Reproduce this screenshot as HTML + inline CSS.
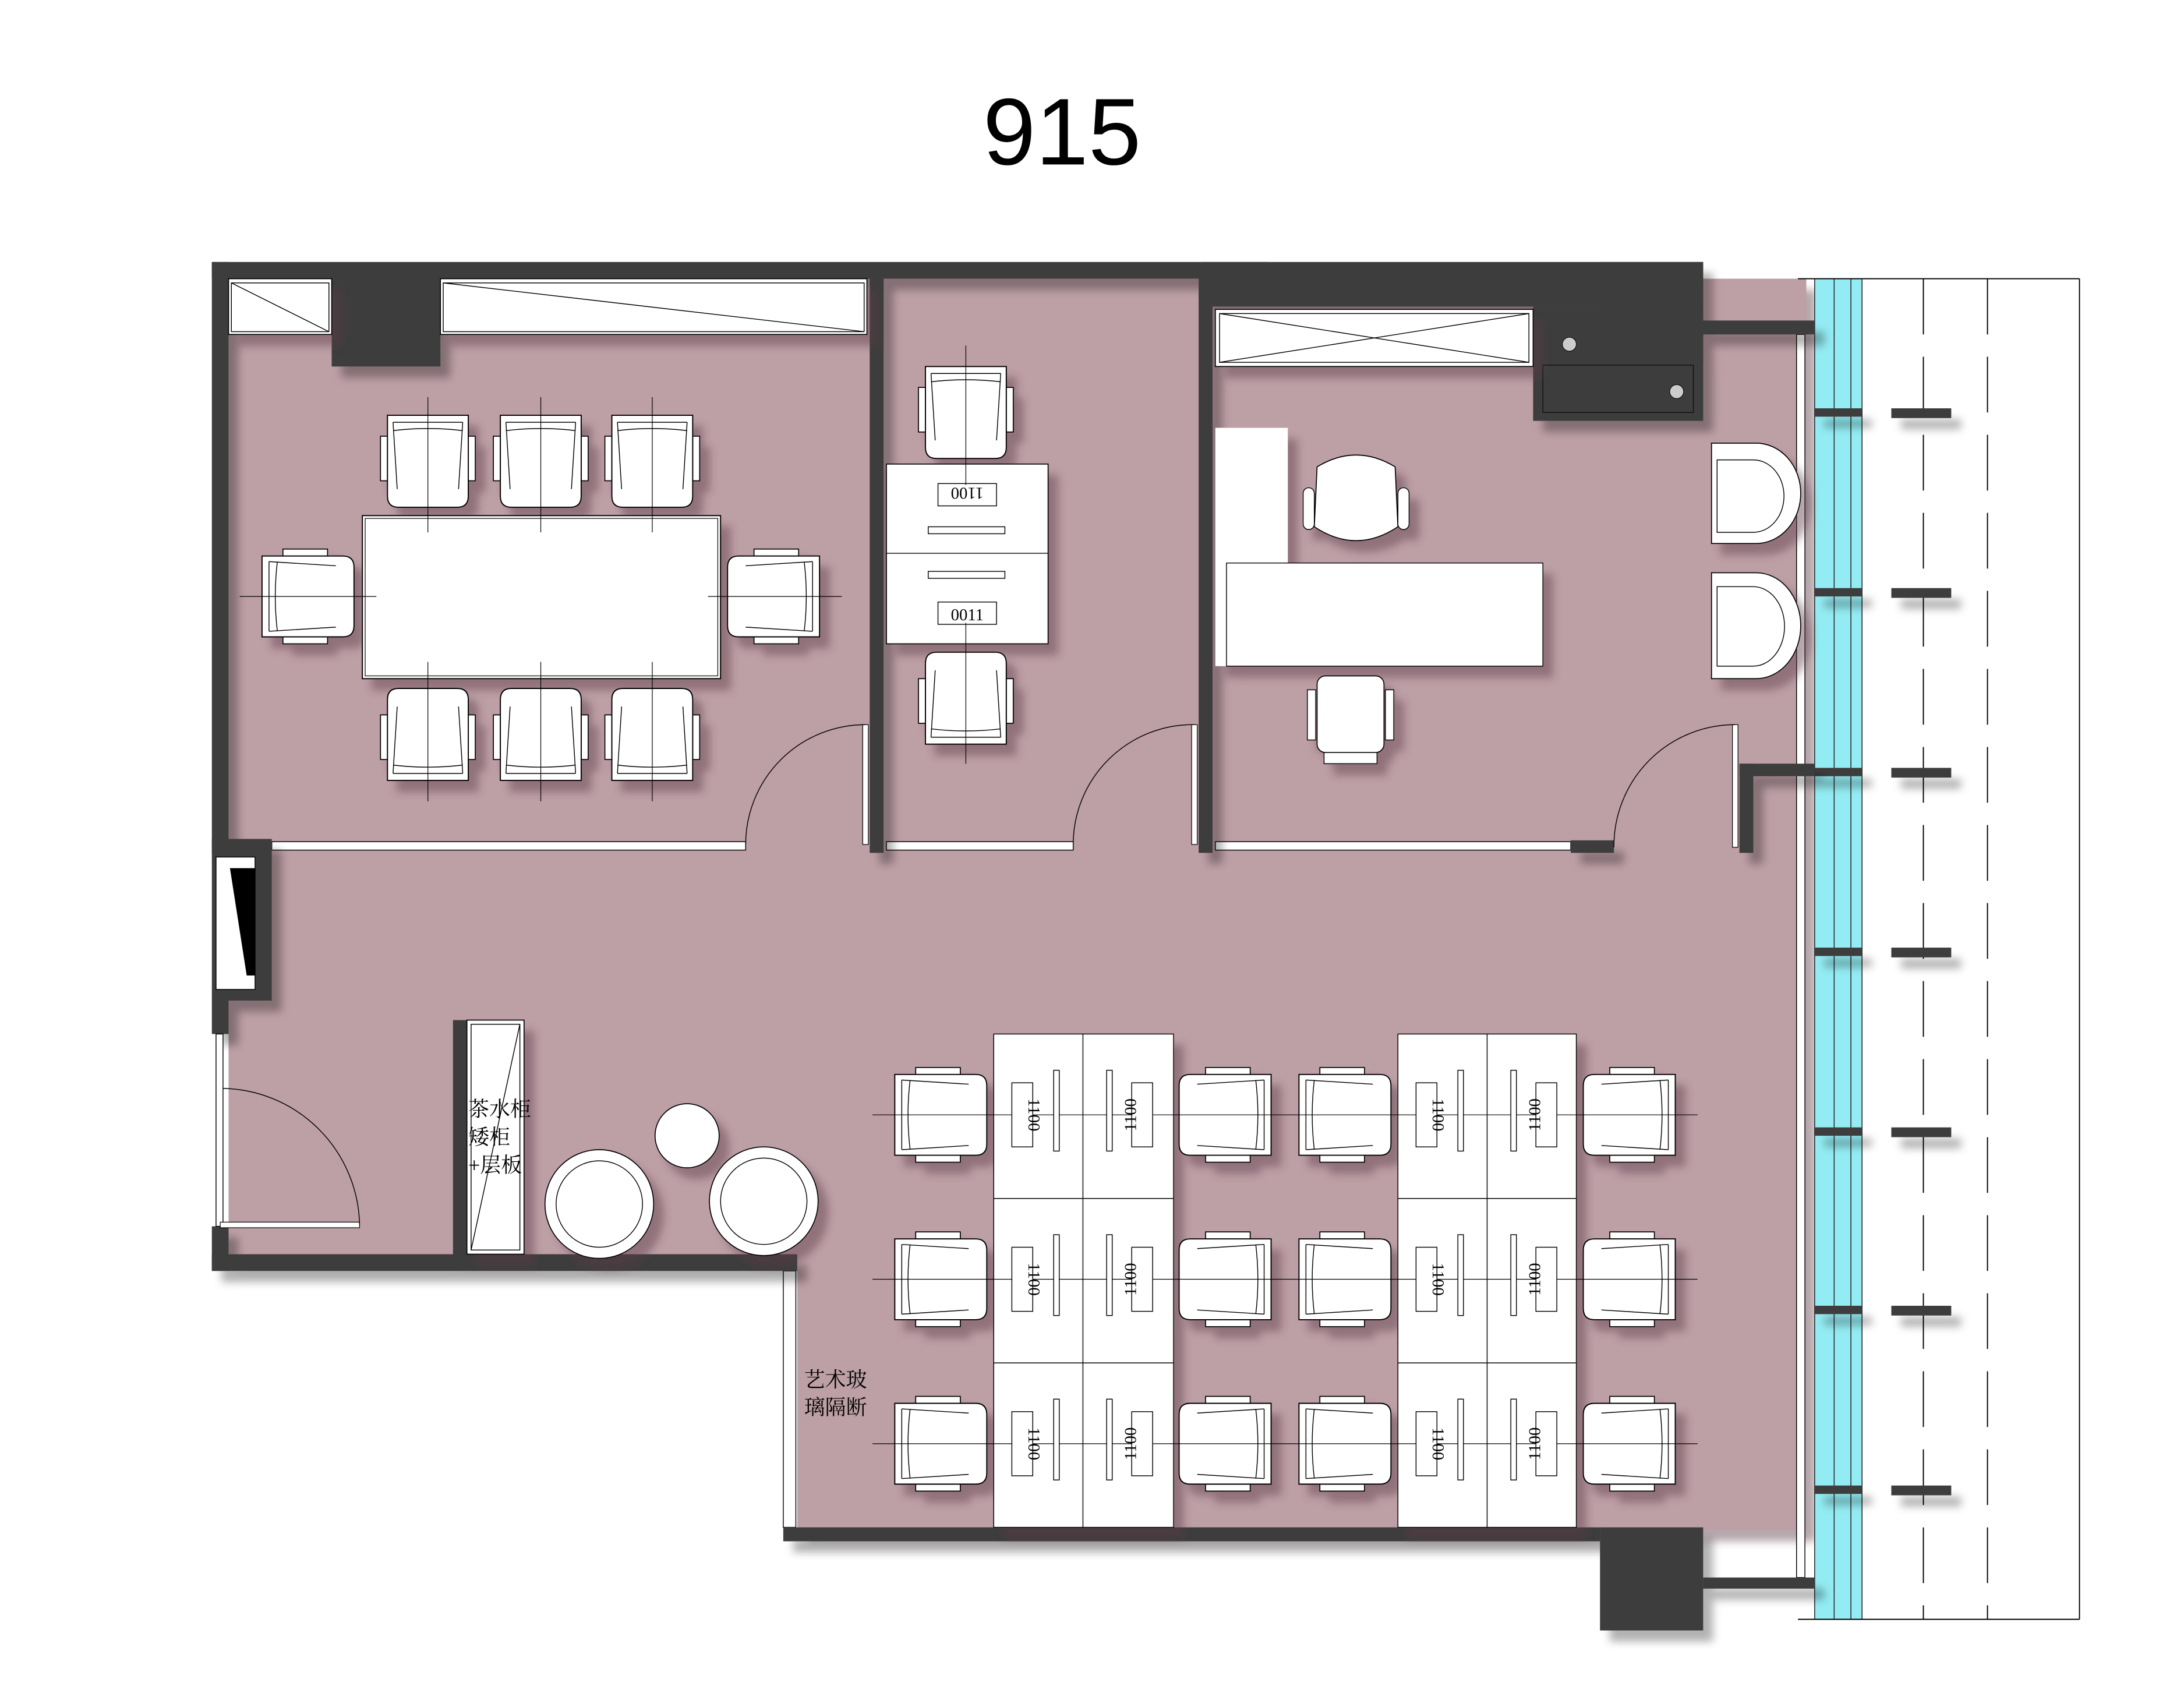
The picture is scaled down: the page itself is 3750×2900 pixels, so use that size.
<!DOCTYPE html>
<html><head><meta charset="utf-8">
<style>
html,body{margin:0;padding:0;background:#fff;}
svg{display:block;}
text{font-family:"Liberation Serif","Noto Serif CJK SC",serif;}
</style></head>
<body>
<svg width="3750" height="2900" viewBox="0 0 1567 1212" preserveAspectRatio="none" xmlns="http://www.w3.org/2000/svg">
<defs>
<filter id="sh" x="-20%" y="-20%" width="160%" height="160%">
<feDropShadow dx="7" dy="8" stdDeviation="3" flood-color="#5a3a44" flood-opacity="0.45"/>
</filter>
<filter id="shw" x="-20%" y="-20%" width="160%" height="160%">
<feDropShadow dx="7" dy="8" stdDeviation="3" flood-color="#000" flood-opacity="0.3"/>
</filter>
<symbol id="ch" viewBox="-34 -34 68 68" width="68" height="68" overflow="visible">
<rect x="-34" y="-18" width="5" height="32" fill="#fff" stroke="#000" stroke-width="0.7"/>
<rect x="29" y="-18" width="5" height="32" fill="#fff" stroke="#000" stroke-width="0.7"/>
<path d="M-29,-33 H29 V25 Q29,33 21,33 H-21 Q-29,33 -29,25 Z" fill="#fff" stroke="#000" stroke-width="0.8"/>
<path d="M-25,-28 H25 M-25,-28 L-22,20 M25,-28 L22,20 M-25,-22 Q0,-25 25,-22" fill="none" stroke="#000" stroke-width="0.6"/>
</symbol>
</defs>

<text x="762" y="118" font-family="Liberation Sans, sans-serif" font-size="68" text-anchor="middle" style="font-family:'Liberation Sans',sans-serif">915</text>

<g filter="url(#sh)">
<path d="M164,200 H1296 V1098 H572 V902 H164 Z" fill="#bd9fa6"/>
</g>

<rect x="1302" y="200" width="34" height="962" fill="#93ecf3"/>
<line x1="1316" y1="200" x2="1316" y2="1162" stroke="#333" stroke-width="0.7"/>
<line x1="1328" y1="200" x2="1328" y2="1162" stroke="#333" stroke-width="0.7"/>
<line x1="1302" y1="200" x2="1302" y2="1162" stroke="#333" stroke-width="0.7"/>
<line x1="1336" y1="200" x2="1336" y2="1162" stroke="#333" stroke-width="0.7"/>
<rect x="1289" y="240" width="6" height="892" fill="#fff" stroke="#000" stroke-width="0.6"/>
<line x1="1290" y1="200" x2="1492" y2="200" stroke="#000" stroke-width="0.8"/>
<line x1="1290" y1="1162" x2="1492" y2="1162" stroke="#000" stroke-width="0.8"/>
<line x1="1380" y1="200" x2="1380" y2="1162" stroke="#000" stroke-width="0.8" stroke-dasharray="40,16"/>
<line x1="1426" y1="200" x2="1426" y2="1162" stroke="#000" stroke-width="0.8" stroke-dasharray="40,16"/>
<line x1="1492" y1="200" x2="1492" y2="1162" stroke="#000" stroke-width="0.8"/>
<g filter="url(#shw)" fill="#3c3c3c">
<rect x="1302" y="293" width="34" height="6"/><rect x="1357" y="293" width="43" height="7"/>
<rect x="1302" y="422" width="34" height="6"/><rect x="1357" y="422" width="43" height="7"/>
<rect x="1302" y="551" width="34" height="6"/><rect x="1357" y="551" width="43" height="7"/>
<rect x="1302" y="680" width="34" height="6"/><rect x="1357" y="680" width="43" height="7"/>
<rect x="1302" y="809" width="34" height="6"/><rect x="1357" y="809" width="43" height="7"/>
<rect x="1302" y="937" width="34" height="6"/><rect x="1357" y="937" width="43" height="7"/>
<rect x="1302" y="1066" width="34" height="6"/><rect x="1357" y="1066" width="43" height="7"/>
</g>

<rect x="195" y="604" width="340" height="6" fill="#fff" stroke="#000" stroke-width="0.6"/>
<rect x="636" y="604" width="134" height="6" fill="#fff" stroke="#000" stroke-width="0.6"/>
<rect x="872" y="604" width="255" height="6" fill="#fff" stroke="#000" stroke-width="0.6"/>
<rect x="562" y="912" width="9" height="184" fill="#fff" stroke="#000" stroke-width="0.6"/>

<g filter="url(#shw)" fill="#3c3c3c">
<rect x="152" y="188" width="758" height="12"/>
<rect x="862" y="188" width="360" height="32"/>
<rect x="1148" y="188" width="74" height="75"/>
<rect x="1100" y="220" width="122" height="82"/>
<rect x="1222" y="230" width="80" height="10"/>
<rect x="152" y="188" width="12" height="425"/>
<rect x="152" y="602" width="43" height="116"/>
<rect x="152" y="718" width="12" height="24"/>
<rect x="152" y="880" width="12" height="32"/>
<rect x="152" y="900" width="420" height="12"/>
<rect x="238" y="200" width="78" height="63"/>
<rect x="624" y="200" width="10" height="412"/>
<rect x="860" y="200" width="10" height="412"/>
<rect x="1248" y="548" width="54" height="9"/>
<rect x="1248" y="548" width="10" height="64"/>
<rect x="1127" y="603" width="31" height="9"/>
<rect x="325" y="732" width="10" height="168"/>
<rect x="562" y="1096" width="586" height="10"/>
<rect x="1148" y="1096" width="74" height="74"/>
<rect x="1222" y="1132" width="80" height="8"/>
</g>
<rect x="1107" y="262" width="108" height="34" fill="none" stroke="#111" stroke-width="0.6"/>
<circle cx="1126" cy="247" r="5" fill="#ccc" stroke="#111" stroke-width="0.5"/>
<circle cx="1203" cy="281" r="5" fill="#ccc" stroke="#111" stroke-width="0.5"/>
<rect x="155" y="615" width="28" height="95" fill="#fff" stroke="#000" stroke-width="0.6"/>
<polygon points="165,623 183,623 183,700 177,700" fill="#000"/>
<rect x="155" y="742" width="5" height="138" fill="#fff" stroke="#000" stroke-width="0.6"/>

<g filter="url(#sh)">
<rect x="164" y="200" width="74" height="40" fill="#fff" stroke="#000" stroke-width="0.7"/>
<rect x="316" y="200" width="306" height="40" fill="#fff" stroke="#000" stroke-width="0.7"/>
<rect x="872" y="222" width="228" height="41" fill="#fff" stroke="#000" stroke-width="0.7"/>
<rect x="335" y="732" width="41" height="168" fill="#fff" stroke="#000" stroke-width="0.7"/>
</g>
<rect x="166" y="203" width="70" height="35" fill="none" stroke="#000" stroke-width="0.6"/>
<line x1="166" y1="203" x2="236" y2="238" stroke="#000" stroke-width="0.6"/>
<rect x="318" y="203" width="302" height="35" fill="none" stroke="#000" stroke-width="0.6"/>
<line x1="318" y1="203" x2="620" y2="238" stroke="#000" stroke-width="0.6"/>
<rect x="875" y="225" width="222" height="35" fill="none" stroke="#000" stroke-width="0.6"/>
<line x1="875" y1="225" x2="1097" y2="260" stroke="#000" stroke-width="0.6"/>
<line x1="875" y1="260" x2="1097" y2="225" stroke="#000" stroke-width="0.6"/>
<rect x="338" y="735" width="35" height="162" fill="none" stroke="#000" stroke-width="0.6"/>
<line x1="373" y1="735" x2="338" y2="897" stroke="#000" stroke-width="0.6"/>
<text x="336" y="801" font-size="15">茶水柜</text>
<text x="336" y="821" font-size="15">矮柜</text>
<text x="336" y="841" font-size="15">+层板</text>
<text x="577" y="995" font-size="15">艺术玻</text>
<text x="577" y="1015" font-size="15">璃隔断</text>

<g filter="url(#sh)">
<rect x="260" y="370" width="257" height="117" fill="#fff" stroke="#000" stroke-width="0.8"/>
<use href="#ch" x="273" y="297" width="68" height="68"/>
<use href="#ch" x="354" y="297" width="68" height="68"/>
<use href="#ch" x="434" y="297" width="68" height="68"/>
<g transform="translate(307,527) rotate(180)"><use href="#ch" x="-34" y="-34" width="68" height="68"/></g>
<g transform="translate(388,527) rotate(180)"><use href="#ch" x="-34" y="-34" width="68" height="68"/></g>
<g transform="translate(468,527) rotate(180)"><use href="#ch" x="-34" y="-34" width="68" height="68"/></g>
<g transform="translate(221,428) rotate(-90)"><use href="#ch" x="-34" y="-34" width="68" height="68"/></g>
<g transform="translate(555,428) rotate(90)"><use href="#ch" x="-34" y="-34" width="68" height="68"/></g>
</g>
<rect x="262" y="372" width="253" height="113" fill="none" stroke="#000" stroke-width="0.5"/>
<g stroke="#000" stroke-width="0.5">
<line x1="307" y1="285" x2="307" y2="382"/><line x1="388" y1="285" x2="388" y2="382"/><line x1="468" y1="285" x2="468" y2="382"/>
<line x1="307" y1="475" x2="307" y2="575"/><line x1="388" y1="475" x2="388" y2="575"/><line x1="468" y1="475" x2="468" y2="575"/>
<line x1="172" y1="428" x2="270" y2="428"/><line x1="508" y1="428" x2="604" y2="428"/>
</g>
<rect x="619" y="520" width="4" height="86" fill="#fff" stroke="#000" stroke-width="0.5"/>
<path d="M535,606 A86,86 0 0 1 621,520" fill="none" stroke="#000" stroke-width="0.6"/>
<rect x="855" y="520" width="4" height="86" fill="#fff" stroke="#000" stroke-width="0.5"/>
<path d="M770,606 A86,86 0 0 1 857,520" fill="none" stroke="#000" stroke-width="0.6"/>
<rect x="1243" y="520" width="4" height="88" fill="#fff" stroke="#000" stroke-width="0.5"/>
<path d="M1158,608 A87,87 0 0 1 1245,520" fill="none" stroke="#000" stroke-width="0.6"/>
<rect x="158" y="877" width="100" height="4" fill="#fff" stroke="#000" stroke-width="0.5"/>
<path d="M258,879 A100,100 0 0 0 160,781" fill="none" stroke="#000" stroke-width="0.6"/>

<g filter="url(#sh)">
<rect x="636" y="333" width="116" height="129" fill="#fff" stroke="#000" stroke-width="0.7"/>
<use href="#ch" x="659" y="262" width="68" height="68"/>
<g transform="translate(693,501) rotate(180)"><use href="#ch" x="-34" y="-34" width="68" height="68"/></g>
</g>
<line x1="636" y1="397" x2="752" y2="397" stroke="#000" stroke-width="0.6"/>
<rect x="666" y="378" width="55" height="5" fill="#fff" stroke="#000" stroke-width="0.6"/>
<rect x="666" y="410" width="55" height="5" fill="#fff" stroke="#000" stroke-width="0.6"/>
<rect x="673" y="347" width="42" height="16" fill="#fff" stroke="#000" stroke-width="0.6"/>
<text x="694" y="360" font-size="12" text-anchor="middle" transform="rotate(180 694 355)">1100</text>
<rect x="673" y="432" width="42" height="16" fill="#fff" stroke="#000" stroke-width="0.6"/>
<text x="694" y="445" font-size="12" text-anchor="middle">0011</text>
<line x1="693" y1="248" x2="693" y2="348" stroke="#000" stroke-width="0.5"/>
<line x1="693" y1="447" x2="693" y2="548" stroke="#000" stroke-width="0.5"/>

<g filter="url(#sh)">
<rect x="872" y="307" width="52" height="171" fill="#fff"/>
<rect x="880" y="404" width="227" height="74" fill="#fff" stroke="#000" stroke-width="0.6"/>
<path d="M1228,318 H1260 A32,36 0 0 1 1260,390 H1228 Z" fill="#fff" stroke="#000" stroke-width="0.7"/>
<path d="M1228,411 H1260 A32,38 0 0 1 1260,487 H1228 Z" fill="#fff" stroke="#000" stroke-width="0.7"/>
<path d="M945,335 Q973,318 1001,335 L1003,378 Q973,398 943,378 Z" fill="#fff" stroke="#000" stroke-width="0.7"/>
<rect x="935" y="350" width="8" height="30" rx="4" fill="#fff" stroke="#000" stroke-width="0.6"/>
<rect x="1003" y="350" width="8" height="30" rx="4" fill="#fff" stroke="#000" stroke-width="0.6"/>
<rect x="945" y="485" width="48" height="55" rx="6" fill="#fff" stroke="#000" stroke-width="0.7"/>
<rect x="938" y="495" width="6" height="36" fill="#fff" stroke="#000" stroke-width="0.6"/>
<rect x="994" y="495" width="6" height="36" fill="#fff" stroke="#000" stroke-width="0.6"/>
<rect x="950" y="540" width="38" height="8" fill="#fff" stroke="#000" stroke-width="0.6"/>
</g>
<path d="M1232,330 H1258 A22,26 0 0 1 1258,382 H1232 Z" fill="none" stroke="#000" stroke-width="0.6"/>
<path d="M1232,421 H1258 A22,28 0 0 1 1258,478 H1232 Z" fill="none" stroke="#000" stroke-width="0.6"/>

<g filter="url(#sh)">
<circle cx="493" cy="815" r="23" fill="#fff" stroke="#000" stroke-width="0.7"/>
<circle cx="430" cy="864" r="39" fill="#fff" stroke="#000" stroke-width="0.7"/>
<circle cx="548" cy="862" r="39" fill="#fff" stroke="#000" stroke-width="0.7"/>
</g>
<circle cx="430" cy="864" r="31" fill="none" stroke="#000" stroke-width="0.6"/>
<circle cx="548" cy="862" r="31" fill="none" stroke="#000" stroke-width="0.6"/>

<g filter="url(#sh)">
<rect x="713" y="742" width="129" height="354" fill="#fff" stroke="#000" stroke-width="0.6"/>
<rect x="1003" y="742" width="128" height="354" fill="#fff" stroke="#000" stroke-width="0.6"/>
<g transform="translate(675,800) rotate(-90)"><use href="#ch" x="-34" y="-34" width="68" height="68"/></g>
<g transform="translate(675,918) rotate(-90)"><use href="#ch" x="-34" y="-34" width="68" height="68"/></g>
<g transform="translate(675,1036) rotate(-90)"><use href="#ch" x="-34" y="-34" width="68" height="68"/></g>
<g transform="translate(879,800) rotate(90)"><use href="#ch" x="-34" y="-34" width="68" height="68"/></g>
<g transform="translate(879,918) rotate(90)"><use href="#ch" x="-34" y="-34" width="68" height="68"/></g>
<g transform="translate(879,1036) rotate(90)"><use href="#ch" x="-34" y="-34" width="68" height="68"/></g>
<g transform="translate(965,800) rotate(-90)"><use href="#ch" x="-34" y="-34" width="68" height="68"/></g>
<g transform="translate(965,918) rotate(-90)"><use href="#ch" x="-34" y="-34" width="68" height="68"/></g>
<g transform="translate(965,1036) rotate(-90)"><use href="#ch" x="-34" y="-34" width="68" height="68"/></g>
<g transform="translate(1169,800) rotate(90)"><use href="#ch" x="-34" y="-34" width="68" height="68"/></g>
<g transform="translate(1169,918) rotate(90)"><use href="#ch" x="-34" y="-34" width="68" height="68"/></g>
<g transform="translate(1169,1036) rotate(90)"><use href="#ch" x="-34" y="-34" width="68" height="68"/></g>
</g>
<g stroke="#000" stroke-width="0.6" fill="none">
<line x1="777" y1="742" x2="777" y2="1096"/><line x1="713" y1="860" x2="842" y2="860"/><line x1="713" y1="978" x2="842" y2="978"/>
<line x1="1067" y1="742" x2="1067" y2="1096"/><line x1="1003" y1="860" x2="1131" y2="860"/><line x1="1003" y1="978" x2="1131" y2="978"/>
<line x1="626" y1="800" x2="1218" y2="800" stroke-width="0.5"/>
<line x1="626" y1="918" x2="1218" y2="918" stroke-width="0.5"/>
<line x1="626" y1="1036" x2="1218" y2="1036" stroke-width="0.5"/>
</g>
<g fill="#fff" stroke="#000" stroke-width="0.6">
<rect x="726" y="777" width="15" height="46"/><rect x="812" y="777" width="15" height="46"/>
<rect x="726" y="895" width="15" height="46"/><rect x="812" y="895" width="15" height="46"/>
<rect x="726" y="1013" width="15" height="46"/><rect x="812" y="1013" width="15" height="46"/>
<rect x="1016" y="777" width="15" height="46"/><rect x="1102" y="777" width="15" height="46"/>
<rect x="1016" y="895" width="15" height="46"/><rect x="1102" y="895" width="15" height="46"/>
<rect x="1016" y="1013" width="15" height="46"/><rect x="1102" y="1013" width="15" height="46"/>
<rect x="756" y="768" width="4" height="58"/><rect x="794" y="768" width="4" height="58"/>
<rect x="756" y="886" width="4" height="58"/><rect x="794" y="886" width="4" height="58"/>
<rect x="756" y="1004" width="4" height="58"/><rect x="794" y="1004" width="4" height="58"/>
<rect x="1046" y="768" width="4" height="58"/><rect x="1084" y="768" width="4" height="58"/>
<rect x="1046" y="886" width="4" height="58"/><rect x="1084" y="886" width="4" height="58"/>
<rect x="1046" y="1004" width="4" height="58"/><rect x="1084" y="1004" width="4" height="58"/>
</g>
<g font-size="12" text-anchor="middle">
<text transform="translate(738,800) rotate(90)" y="0">1100</text>
<text transform="translate(815,800) rotate(-90)" y="0">1100</text>
<text transform="translate(738,918) rotate(90)" y="0">1100</text>
<text transform="translate(815,918) rotate(-90)" y="0">1100</text>
<text transform="translate(738,1036) rotate(90)" y="0">1100</text>
<text transform="translate(815,1036) rotate(-90)" y="0">1100</text>
<text transform="translate(1028,800) rotate(90)" y="0">1100</text>
<text transform="translate(1105,800) rotate(-90)" y="0">1100</text>
<text transform="translate(1028,918) rotate(90)" y="0">1100</text>
<text transform="translate(1105,918) rotate(-90)" y="0">1100</text>
<text transform="translate(1028,1036) rotate(90)" y="0">1100</text>
<text transform="translate(1105,1036) rotate(-90)" y="0">1100</text>
</g>
</svg>
</body></html>
